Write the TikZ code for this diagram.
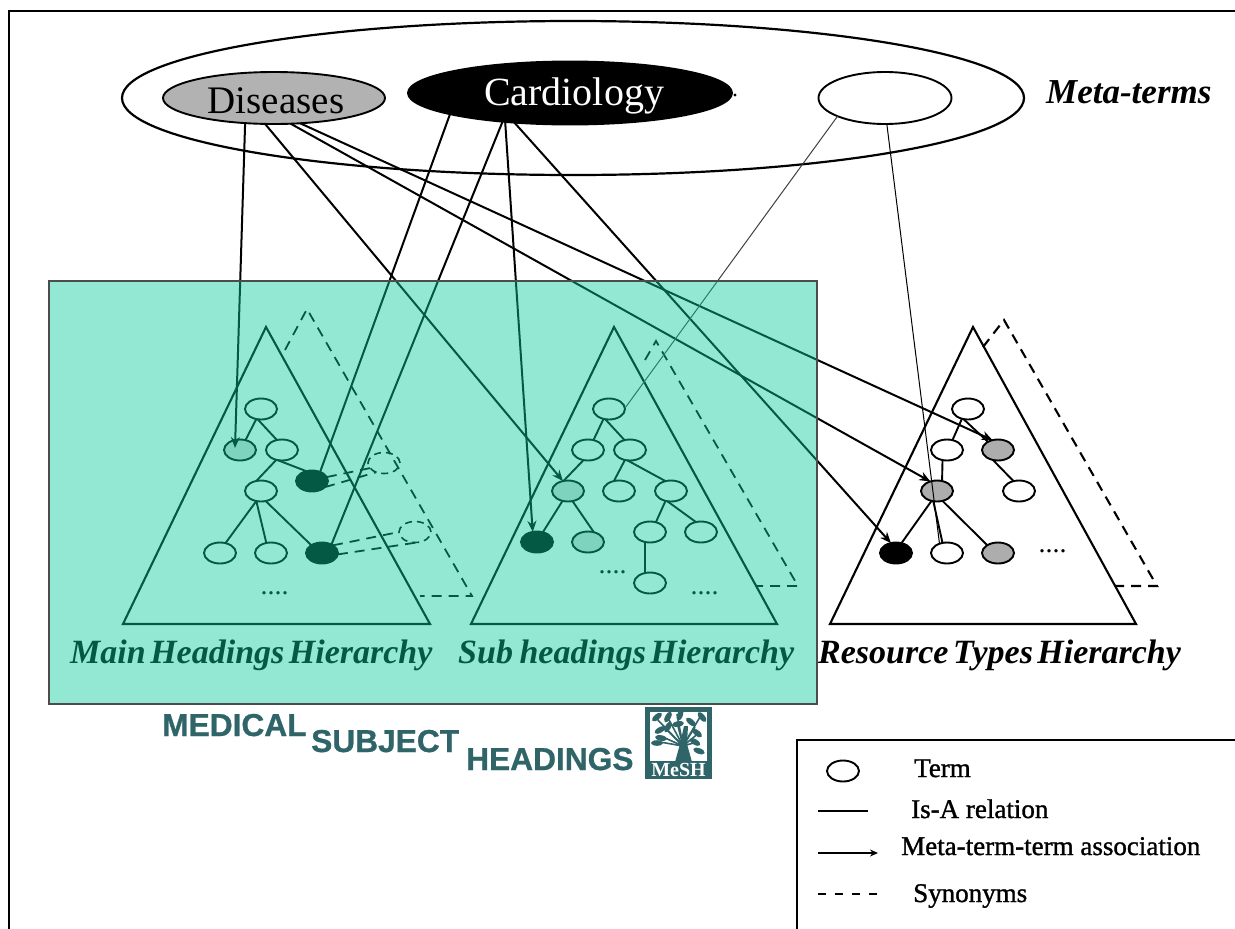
\documentclass[tikz,border=0pt]{standalone}
\usepackage{fontspec}
\setmainfont{Liberation Serif}
\setsansfont{Liberation Sans}
\newfontfamily\legendfont{Liberation Serif}[FakeBold=1.2]
\newfontfamily\wordfont{Liberation Sans Bold}[FakeBold=0.8]
\usetikzlibrary{shapes.geometric,arrows.meta}
\definecolor{overlaycol}{RGB}{11,204,156}
\definecolor{meshcol}{RGB}{47,100,104}
\tikzset{
  ell/.style={ellipse,draw=black,inner sep=0pt,outer sep=0pt,line width=1.9pt},
  term/.style={ell,fill=white,minimum width=32pt,minimum height=21pt},
  termblack/.style={term,fill=black},
  termgraya/.style={term,fill=black!15},
  termgrayb/.style={term,fill=black!32},
  termsyn/.style={ellipse,draw=black,dash pattern=on 7pt off 5pt,line width=1.6pt,inner sep=0pt,outer sep=0pt,minimum width=32pt,minimum height=21pt},
  isa/.style={line width=1.9pt,draw=black},
  assoc/.style={line width=2pt,draw=black,-{Stealth[length=11pt,width=9pt]}},
  thinassoc/.style={line width=1pt,draw=black!75},
  tri/.style={line width=2.1pt,draw=black,line join=miter},
  syn/.style={line width=1.8pt,draw=black,dash pattern=on 10pt off 7pt},
  dotsn/.style={anchor=base,inner sep=0pt,font=\fontsize{28}{28}\selectfont},
  hier/.style={anchor=base west,inner sep=0pt,font=\fontsize{34}{34}\selectfont\bfseries\itshape},
  mesht/.style={anchor=base west,inner sep=0pt,text=meshcol,font=\wordfont\fontsize{31.7}{32}\selectfont},
  legt/.style={anchor=base west,inner sep=0pt,font=\legendfont\fontsize{27}{27}\selectfont},
}
\begin{document}
\begin{tikzpicture}[x=1pt,y=-1pt]
\useasboundingbox (0,0) rectangle (1235,929);
\fill[white] (0,0) rectangle (1235,929);
% frame
\draw[line width=2.6pt] (9,929) -- (9,11) -- (1235,11);
% meta-terms
\node[ell,line width=2.2pt,minimum width=902pt,minimum height=154pt] (meta) at (573,98) {};
\node[ell,fill=black!30,minimum width=222pt,minimum height=52pt] (dis) at (274,98) {};
\node[inner sep=0pt,anchor=base,font=\fontsize{39}{39}\selectfont] (distxt) at (276,113) {Diseases};
\node[ell,fill=black,minimum width=324pt,minimum height=63pt] (car) at (570,93) {};
\node[inner sep=0pt,anchor=base,text=white,font=\fontsize{40}{40}\selectfont] (cartxt) at (574,105) {Cardiology};
\fill (735,95) circle (1.6);
\node[ell,fill=white,minimum width=133pt,minimum height=52pt] (third) at (885,98) {};
\node[anchor=base west,inner sep=0pt,font=\fontsize{35}{35}\selectfont\bfseries\itshape] (metat) at (1046,103) {Meta-terms};
% triangles
\draw[tri] (123,624) -- (266,327) -- (430,624) -- cycle;
\draw[syn] (285,350) -- (307,309) -- (472,596) -- (420,596);
\draw[tri] (471,624) -- (614,327) -- (777,624) -- cycle;
\draw[syn] (645,360) -- (656,341) -- (798,586) -- (757,586);
\draw[tri] (830,624) -- (973,327) -- (1136,624) -- cycle;
\draw[syn,line width=2.1pt] (983,347) -- (1004,320) -- (1157,586) -- (1115,586);
% main headings terms
\node[term] (m1) at (261,409) {};
\node[termgraya] (m2) at (240,450) {};
\node[term] (m3) at (282,450) {};
\node[termblack] (m4) at (312,481) {};
\node[term] (m5) at (261,491) {};
\node[term] (m6) at (220,553) {};
\node[term] (m7) at (271,553) {};
\node[termblack] (m8) at (322,553) {};
\node[termsyn] (syna) at (384,463) {};
\node[termsyn] (synb) at (415,532) {};
\node[dotsn] (dm) at (274.5,594) {....};
\draw[isa] (m1.-115) -- (m2.61);
\draw[isa] (m1.-108) -- (m3.117);
\draw[isa] (m3.-114) -- (m4.120);
\draw[isa] (m3.-120) -- (m5.115);
\draw[isa] (m5.-115) -- (m6.61);
\draw[isa] (m5.-115) -- (m7.115);
\draw[isa] (m5.-65) -- (m8.144);
\draw[syn] (m4.15) -- (syna.-160);
\draw[syn] (m4.-25) -- (syna.-130);
\draw[syn] (m8.35) -- (synb.180);
\draw[syn] (m8.-5) -- (synb.-75);
% sub headings terms
\node[term] (s1) at (609,409) {};
\node[term] (s2) at (588,450) {};
\node[term] (s3) at (630,450) {};
\node[termgraya] (s4) at (568,491) {};
\node[term] (s5) at (619,491) {};
\node[term] (s6) at (671,491) {};
\node[termblack] (s7) at (537,542) {};
\node[termgraya] (s8) at (588,542) {};
\node[term] (s9) at (650,532) {};
\node[term] (s10) at (701,532) {};
\node[term] (s11) at (650,583) {};
\node[dotsn] (dsa) at (612.5,573) {....};
\node[dotsn] (dsb) at (704.5,594) {....};
\draw[isa] (s1.-119) -- (s2.61);
\draw[isa] (s1.-110) -- (s3.119);
\draw[isa] (s2.-114) -- (s4.114);
\draw[isa] (s3.-117) -- (s5.117);
\draw[isa] (s3.-104) -- (s6.119);
\draw[isa] (s4.-119) -- (s7.59);
\draw[isa] (s4.-66) -- (s8.59);
\draw[isa] (s6.-119) -- (s9.59);
\draw[isa] (s6.-110) -- (s10.117);
\draw[isa] (s9.-117) -- (s11.117);
% resource types terms
\node[term] (r1) at (968,409) {};
\node[term] (r2) at (947,450) {};
\node[termgrayb] (r3) at (998,450) {};
\node[termgrayb] (r4) at (937,491) {};
\node[term] (r5) at (1019,491) {};
\node[termblack] (r6) at (896,553) {};
\node[term] (r7) at (947,553) {};
\node[termgrayb] (r8) at (998,553) {};
\node[dotsn] (dr) at (1052.5,552) {....};
\draw[isa] (r1.-122) -- (r2.61);
\draw[isa] (r1.-114) -- (r3.141);
\draw[isa] (r2.-114) -- (r4.63);
\draw[isa] (r3.-117) -- (r5.119);
\draw[isa] (r4.-119) -- (r6.61);
\draw[isa] (r4.-110) -- (r7.114);
\draw[isa] (r4.-61) -- (r8.144);
% associations
\draw[assoc] (dis.-139) -- ([shift={(-5,-2)}]m2.center);
\draw[assoc] (dis.-109) -- (s4.117);
\draw[assoc] (dis.-57) -- (r4.125);
\draw[assoc] (dis.-44) -- (r3.119);
\draw[assoc] (car.-170) -- ([shift={(3,5)}]m4.center);
\draw[assoc] (car.-157) -- ([shift={(4,5)}]m8.center);
\draw[assoc] (car.-156.5) -- (s7.113);
\draw[assoc] (car.-152) -- (r6.117);
\draw[thinassoc] (third.-159) -- (s1.3);
\draw[thinassoc,draw=black] (third.-86) -- (r7.129);
% hierarchy labels
\node[hier] (hm) at (70,663) {Main\hspace{-4pt} Headings\hspace{-4pt} Hierarchy};
\node[hier] (hs) at (458,663) {Sub\hspace{-2pt} headings\hspace{-4pt} Hierarchy};
\node[hier] (hr) at (818,663) {Resource\hspace{-4pt} Types\hspace{-4pt} Hierarchy};
% translucent MeSH panel
\fill[overlaycol,fill opacity=0.44] (49,281) rectangle (817,704);
\draw[black!70,line width=1.1pt] (49,281) rectangle (817,704);
% MeSH wordmark
\node[mesht] (wa) at (162,736) {MEDICAL};
\node[mesht] (wb) at (311,752) {SUBJECT};
\node[mesht] (wc) at (466,770) {HEADINGS};
% MeSH logo
\fill[meshcol] (645,707) rectangle (712,779);
\fill[white] (650,712) rectangle (707,761);
\fill[meshcol] (675,762) -- (680,744) -- (684,726) -- (688,726) -- (687,744) -- (692,762) -- cycle;
\foreach \xa/\ya in {655/717,668/718,664/727,677/714,678/726,700/717,695/727,660/742,700/732,665/738,697/742}
  \draw[meshcol,line width=1.6pt] (683,746) -- (\xa,\ya);
\foreach \xa/\ya/\ang in {657/717/40,668/717/60,680/715/70,702/717/-50,691/722/-40,678/724/10,660/730/30,697/733/-40,657/743/0,661/738/-10,699/751/-20,695/742/-30,668/727/60}
  \fill[meshcol,rotate around={\ang:(\xa,\ya)}] (\xa,\ya) ellipse (6 and 2.8);
\node[anchor=base,inner sep=0pt,text=white,font=\fontsize{20}{20}\selectfont\bfseries] (logot) at (678.5,776) {MeSH};
% legend
\draw[line width=2.2pt] (797,929) -- (797,740) -- (1235,740);
\node[ell,fill=white,minimum width=32pt,minimum height=21pt] (lterm) at (843,771) {};
\coordinate (la1) at (818,811); \coordinate (la2) at (868,811);
\coordinate (lb1) at (818,853); \coordinate (lb2) at (878,853);
\coordinate (lc1) at (818,894); \coordinate (lc2) at (882,894);
\draw[line width=1.8pt] (la1) -- (la2);
\draw[line width=2pt,-{Stealth[length=8pt,width=7pt]}] (lb1) -- (lb2);
\draw[line width=1.8pt,dash pattern=on 8pt off 9pt] (lc1) -- (lc2);
\node[legt] (ta) at (914,777) {Term};
\node[legt] (tb) at (911,818) {Is-A relation};
\node[legt] (tc) at (901,855) {Meta-term-term association};
\node[legt] (td) at (913,902) {Synonyms};
\end{tikzpicture}
\end{document}
